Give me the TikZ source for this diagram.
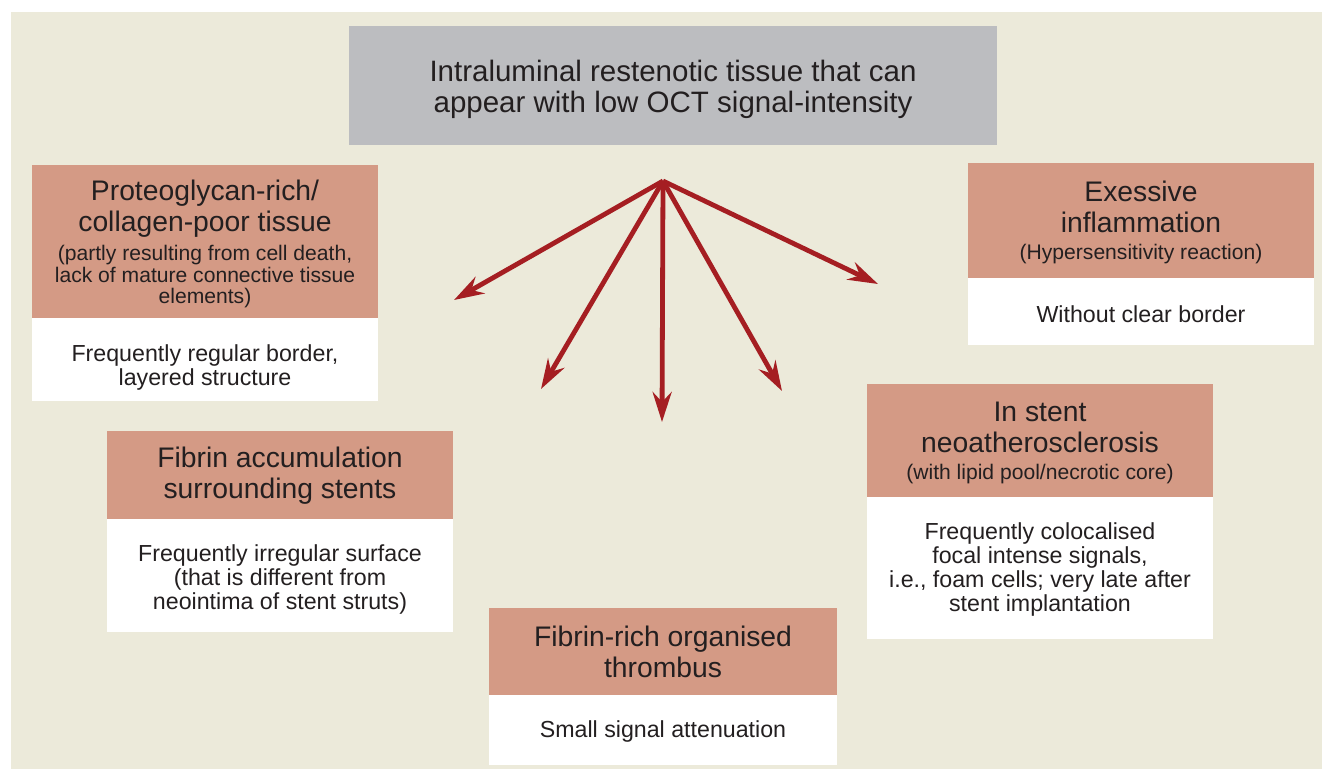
\documentclass[tikz,border=0pt]{standalone}
\usepackage{fontspec}
\setmainfont{Liberation Sans}
\usetikzlibrary{arrows.meta}
\definecolor{beige}{HTML}{ECEADA}
\definecolor{salmon}{HTML}{D49A85}
\definecolor{greybox}{HTML}{BCBDC0}
\definecolor{arrred}{HTML}{A51E22}
\definecolor{txt}{HTML}{231F20}
\tikzset{
  hdr/.style={fill=salmon, draw=none, anchor=north west, inner sep=0, minimum width=346pt},
  wbox/.style={fill=white, draw=none, anchor=north west, inner sep=0, minimum width=346pt},
  tbase/.style={align=center, text=txt, inner sep=0, yshift=-2.5pt},
  ttop/.style={tbase, font=\fontsize{29.5}{31}\selectfont},
  tmain/.style={tbase, font=\fontsize{28.3}{31}\selectfont},
  tsub/.style={tbase, font=\fontsize{21.1}{21.5}\selectfont},
  tbody/.style={tbase, font=\fontsize{23.2}{24}\selectfont},
  arr/.style={draw=arrred, line width=4.8pt, -{Stealth[length=30pt, width=19pt, inset=10pt]}}
}
\begin{document}
\begin{tikzpicture}[x=1pt, y=-1pt]
\useasboundingbox (0,0) rectangle (1322,769);
\fill[beige] (11,12) rectangle (1322,769);
% top
\node[fill=greybox, anchor=north west, inner sep=0, minimum width=648pt, minimum height=119pt] (top) at (349,26) {};
\node[ttop] (topT) at (673,86.5) {Intraluminal restenotic tissue that can\\appear with low OCT signal-intensity};
% proteoglycan
\node[hdr, minimum height=153pt] (pH) at (32,165) {};
\node[wbox, minimum height=83pt] (pW) at (32,318) {};
\node[tmain] (pT) at (205,206.5) {Proteoglycan-rich/\\collagen-poor tissue};
\node[tsub] (pS) at (205,274.5) {(partly resulting from cell death,\\lack of mature connective tissue\\elements)};
\node[tbody] (pB) at (205,364.5) {Frequently regular border,\\layered structure};
% fibrin accumulation
\node[hdr, minimum height=88pt] (fH) at (107,431) {};
\node[wbox, minimum height=113pt] (fW) at (107,519) {};
\node[tmain] (fT) at (280,473) {Fibrin accumulation\\surrounding stents};
\node[tbody] (fB) at (280,577) {Frequently irregular surface\\(that is different from\\neointima of stent struts)};
% fibrin-rich thrombus
\node[hdr, minimum height=87pt, minimum width=348pt] (tH) at (489,608) {};
\node[wbox, minimum height=70pt, minimum width=348pt] (tW) at (489,695) {};
\node[tmain] (tT) at (663,649) {Fibrin-rich organised\\thrombus};
\node[tbody] (tB) at (663,729) {Small signal attenuation};
% excessive inflammation
\node[hdr, minimum height=115pt] (eH) at (968,163) {};
\node[wbox, minimum height=67pt] (eW) at (968,278) {};
\node[tmain] (eT) at (1141,204) {Exessive\\inflammation};
\node[tsub] (eS) at (1141,252) {(Hypersensitivity reaction)};
\node[tbody] (eB) at (1141,312) {Without clear border};
% in stent neoatherosclerosis
\node[hdr, minimum height=113pt] (sH) at (867,384) {};
\node[wbox, minimum height=142pt] (sW) at (867,497) {};
\node[tmain] (sT) at (1040,424.5) {In stent\\neoatherosclerosis};
\node[tsub] (sS) at (1040,472) {(with lipid pool/necrotic core)};
\node[tbody] (sB) at (1040,566.5) {Frequently colocalised\\focal intense signals,\\i.e., foam cells; very late after\\stent implantation};
% arrows
\coordinate (hub) at (663,181);
\coordinate (a1) at (454,300);
\coordinate (a2) at (541,389);
\coordinate (a3) at (662,422);
\coordinate (a4) at (782,391);
\coordinate (a5) at (878,284);
\foreach \t in {a1,a2,a3,a4,a5} \draw[arr] (hub) -- (\t);
\end{tikzpicture}
\end{document}
